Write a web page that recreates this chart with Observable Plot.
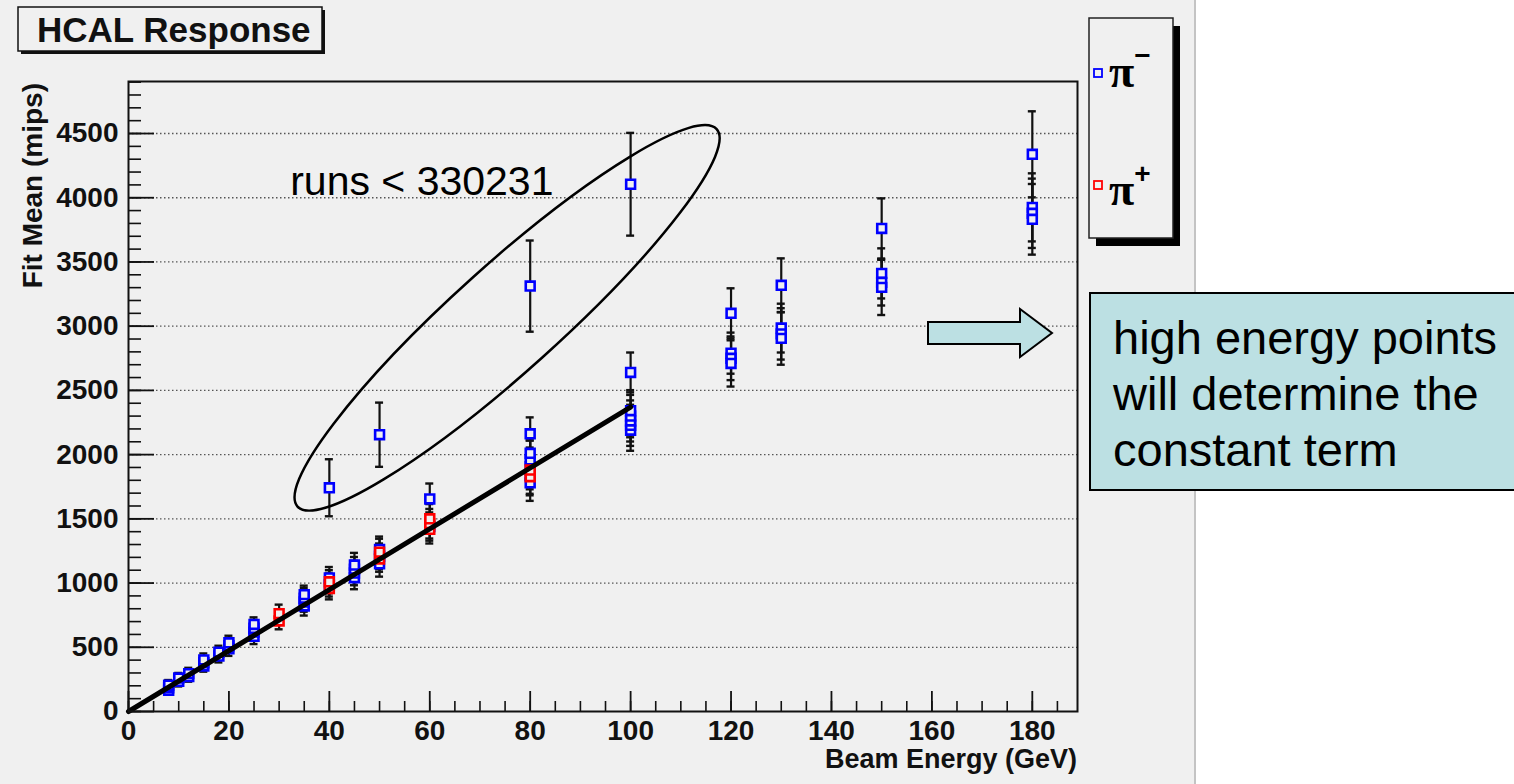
<!DOCTYPE html>
<html>
<head>
<meta charset="utf-8">
<script src="https://cdn.jsdelivr.net/npm/d3@7"></script>
<script src="https://cdn.jsdelivr.net/npm/@observablehq/plot@0.6"></script>
<style>
  html, body { margin: 0; padding: 0; background: #ffffff; }
  #chart svg { display: block; }
</style>
</head>
<body>
<div id="chart"></div>
<script>
// ---- data ----
const energy = [
  8, 8, 8, 10, 10, 12, 12, 15, 15, 15, 18, 18, 20, 20, 20,
  25, 25, 25, 25, 30, 30, 35, 35, 35, 35,
  40, 40, 40, 40, 40, 45, 45, 45, 45,
  50, 50, 50, 50, 50, 50, 60, 60, 60, 60, 60,
  80, 80, 80, 80, 80, 80, 80, 80, 80,
  100, 100, 100, 100, 100, 100, 100,
  120, 120, 120, 120, 130, 130, 130, 130,
  150, 150, 150, 150, 180, 180, 180, 180
];
const fitMean = [
  165, 185, 205, 235, 260, 272, 295, 355, 380, 402, 432, 462, 488, 512, 535,
  585, 618, 648, 678, 705, 762, 822, 852, 882, 910,
  958, 1010, 985, 1040, 1742, 1042, 1078, 1108, 1140,
  1150, 1208, 1262, 2155, 1188, 1240, 1440, 1655, 1418, 1462, 1500,
  1780, 1840, 1905, 1960, 2010, 2162, 3312, 1828, 1880,
  2190, 2228, 2262, 2300, 2342, 2640, 4105,
  3100, 2790, 2750, 2710, 3318, 2985, 2940, 2905,
  3761, 3411, 3341, 3302, 4338, 3925, 3879, 3832
];
const fitError = [
  35, 35, 40, 40, 40, 40, 45, 45, 45, 50, 50, 50, 55, 55, 55,
  60, 60, 65, 55, 65, 70, 75, 75, 80, 70,
  85, 90, 90, 85, 222, 90, 95, 95, 95,
  100, 100, 100, 250, 100, 105, 110, 120, 110, 115, 115,
  140, 145, 150, 150, 100, 128, 355, 145, 150,
  160, 160, 160, 165, 160, 155, 400,
  195, 160, 170, 180, 210, 190, 200, 205,
  234, 195, 180, 215, 335, 265, 270, 275
];
const particle = [
  "pi-", "pi-", "pi-", "pi-", "pi-", "pi-", "pi-", "pi-", "pi-", "pi-", "pi-", "pi-", "pi-", "pi-", "pi-",
  "pi-", "pi-", "pi-", "pi-", "pi+", "pi+", "pi-", "pi-", "pi-", "pi-",
  "pi+", "pi+", "pi-", "pi-", "pi-", "pi-", "pi-", "pi-", "pi-",
  "pi-", "pi-", "pi-", "pi-", "pi+", "pi+", "pi-", "pi-", "pi+", "pi+", "pi+",
  "pi-", "pi-", "pi-", "pi-", "pi-", "pi-", "pi-", "pi+", "pi+",
  "pi-", "pi-", "pi-", "pi-", "pi-", "pi-", "pi-",
  "pi-", "pi-", "pi-", "pi-", "pi-", "pi-", "pi-", "pi-",
  "pi-", "pi-", "pi-", "pi-", "pi-", "pi-", "pi-", "pi-"
];
// linear fit drawn over the low-energy points
const fitLineEnergy = [0, 100];
const fitLineMips = [0, 2370];
// axis ticks
const xMajorTicks = [0, 20, 40, 60, 80, 100, 120, 140, 160, 180];
const xMinorTicks = d3.range(0, 189, 5);
const yMajorTicks = [0, 500, 1000, 1500, 2000, 2500, 3000, 3500, 4000, 4500];
const yMinorTicks = d3.range(0, 4901, 100);
// annotations
const noteText = ["runs < 330231"];
const noteEnergy = [32.2];
const noteMips = [4020];
const ellipseCenterEnergy = 75.5;
const ellipseCenterMips = 3061;
const boxLines = ["high energy points", "will determine the", "constant term"];

// ---- build tables ----
const points = energy.map((e, i) => ({E: e, mean: fitMean[i], err: fitError[i], p: particle[i]}));
const fitLine = fitLineEnergy.map((e, i) => ({E: e, mips: fitLineMips[i]}));
const notes = noteText.map((t, i) => ({t, E: noteEnergy[i], mips: noteMips[i]}));

const SANS = "Liberation Sans, Arial, Helvetica, sans-serif";
const BG = "#f0f0f0";

const chart = Plot.plot({
  width: 1514,
  height: 784,
  marginLeft: 128,
  marginRight: 437,
  marginTop: 81,
  marginBottom: 73,
  style: {background: "transparent", fontFamily: SANS, color: "#111"},
  x: {domain: [0, 189], axis: null},
  y: {domain: [0, 4905], axis: null},
  marks: [
    Plot.gridY({ticks: yMajorTicks.slice(1), stroke: "#555", strokeOpacity: 1, strokeWidth: 1.3, strokeDasharray: "1.5,2.5"}),
    // error bars
    Plot.ruleX(points, {x: "E", y1: d => d.mean - d.err, y2: d => d.mean + d.err, stroke: "#111", strokeWidth: 2.2}),
    Plot.ruleY(points, {y: d => d.mean + d.err, x1: "E", x2: "E", insetLeft: -4, insetRight: -4, stroke: "#111", strokeWidth: 2.4}),
    Plot.ruleY(points, {y: d => d.mean - d.err, x1: "E", x2: "E", insetLeft: -4, insetRight: -4, stroke: "#111", strokeWidth: 2.4}),
    // markers
    Plot.dot(points.filter(d => d.p === "pi-"), {x: "E", y: "mean", symbol: "square", r: 5, stroke: "#0000ff", strokeWidth: 2.6, fill: BG}),
    Plot.dot(points.filter(d => d.p === "pi+"), {x: "E", y: "mean", symbol: "square", r: 5, stroke: "#ff0000", strokeWidth: 2.6, fill: BG}),
    // fit line
    Plot.line(fitLine, {x: "E", y: "mips", stroke: "#000", strokeWidth: 5}),
    // ticks inside the frame
    Plot.axisX({ticks: xMinorTicks, tickSize: -10, fill: "none", stroke: "#111", strokeWidth: 1.6}),
    Plot.axisX({ticks: xMajorTicks, tickSize: -20, fill: "none", stroke: "#111", strokeWidth: 1.8}),
    Plot.axisX({ticks: xMajorTicks, tickSize: 0, tickPadding: 9, tickFormat: d3.format("d"), fontSize: 28, fontWeight: "bold", fontFamily: SANS, fill: "#111", label: null}),
    Plot.axisY({ticks: yMinorTicks, tickSize: -13, fill: "none", stroke: "#111", strokeWidth: 1.6}),
    Plot.axisY({ticks: yMajorTicks, tickSize: -26, fill: "none", stroke: "#111", strokeWidth: 1.8}),
    Plot.axisY({ticks: yMajorTicks, tickSize: 0, tickPadding: 10, tickFormat: d3.format("d"), fontSize: 28, fontWeight: "bold", fontFamily: SANS, fill: "#111", label: null}),
    Plot.frame({stroke: "#111", strokeWidth: 2}),
    Plot.text(notes, {x: "E", y: "mips", text: "t", textAnchor: "start", lineAnchor: "bottom", fontSize: 41, fontFamily: SANS, fill: "#000"})
  ]
});

document.getElementById("chart").appendChild(chart);

// ---- decorations (canvas, title, legend, annotations) ----
const svg = d3.select(chart);
const xs = chart.scale("x"), ys = chart.scale("y");

svg.insert("rect", ":first-child").attr("x", 0).attr("y", 0).attr("width", 1195).attr("height", 784).attr("fill", BG);
svg.append("line").attr("x1", 1195).attr("x2", 1195).attr("y1", 0).attr("y2", 784).attr("stroke", "#c4c4c4").attr("stroke-width", 2);

// axis titles
svg.append("text").attr("x", 1077).attr("y", 768).attr("text-anchor", "end")
  .attr("font-family", SANS).attr("font-weight", "bold").attr("font-size", 27).attr("fill", "#111")
  .text("Beam Energy (GeV)");
svg.append("text").attr("transform", "translate(42,83) rotate(-90)").attr("text-anchor", "end")
  .attr("font-family", SANS).attr("font-weight", "bold").attr("font-size", 28).attr("fill", "#111")
  .text("Fit Mean (mips)");

// title box
svg.append("rect").attr("x", 21).attr("y", 10).attr("width", 304).attr("height", 44).attr("fill", "#111");
svg.append("rect").attr("x", 18).attr("y", 7).attr("width", 304).attr("height", 44).attr("fill", BG).attr("stroke", "#111").attr("stroke-width", 1.5);
svg.append("text").attr("x", 37).attr("y", 42).attr("text-anchor", "start").attr("font-family", SANS).attr("font-weight", "bold").attr("font-size", 35).attr("fill", "#111").text("HCAL Response");

// legend
svg.append("rect").attr("x", 1096).attr("y", 26).attr("width", 84).attr("height", 220).attr("fill", "#000");
svg.append("rect").attr("x", 1089).attr("y", 18).attr("width", 84).attr("height", 220).attr("fill", BG).attr("stroke", "#222").attr("stroke-width", 1.5);
const legendItems = [{label: "\u2212", color: "#0000ff", cy: 73, base: 87}, {label: "+", color: "#ff0000", cy: 185, base: 205}];
legendItems.forEach(it => {
  svg.append("rect").attr("x", 1094).attr("y", it.cy - 4).attr("width", 8).attr("height", 8)
    .attr("fill", "none").attr("stroke", it.color).attr("stroke-width", 1.8);
  const t = svg.append("text").attr("x", 1109).attr("y", it.base).attr("text-anchor", "start")
    .attr("font-family", "Liberation Serif, Times New Roman, serif").attr("font-weight", "bold")
    .attr("font-size", 46).attr("fill", "#000");
  t.append("tspan").text("\u03c0");
  t.append("tspan").attr("dy", -22).attr("font-size", 28).attr("font-weight", "bold").attr("font-family", SANS).text(it.label);
});

// ellipse around early runs
const ecx = xs.apply(ellipseCenterEnergy), ecy = ys.apply(ellipseCenterMips);
svg.append("ellipse").attr("cx", ecx).attr("cy", ecy).attr("rx", 282).attr("ry", 53)
  .attr("transform", `rotate(-42 ${ecx} ${ecy})`).attr("fill", "none").attr("stroke", "#000").attr("stroke-width", 2.5);

// arrow and comment box
const TEAL = "#bce0e3";
svg.append("polygon").attr("points", "928,322 1020,322 1020,309 1052,333 1020,357 1020,344 928,344")
  .attr("fill", TEAL).attr("stroke", "#000").attr("stroke-width", 2);
svg.append("rect").attr("x", 1090).attr("y", 293).attr("width", 440).attr("height", 197)
  .attr("fill", TEAL).attr("stroke", "#000").attr("stroke-width", 2);
boxLines.forEach((line, i) => {
  svg.append("text").attr("x", 1113).attr("y", 354 + i * 56).attr("text-anchor", "start").attr("font-family", SANS)
    .attr("font-size", 47).attr("fill", "#000").text(line);
});
</script>
</body>
</html>
